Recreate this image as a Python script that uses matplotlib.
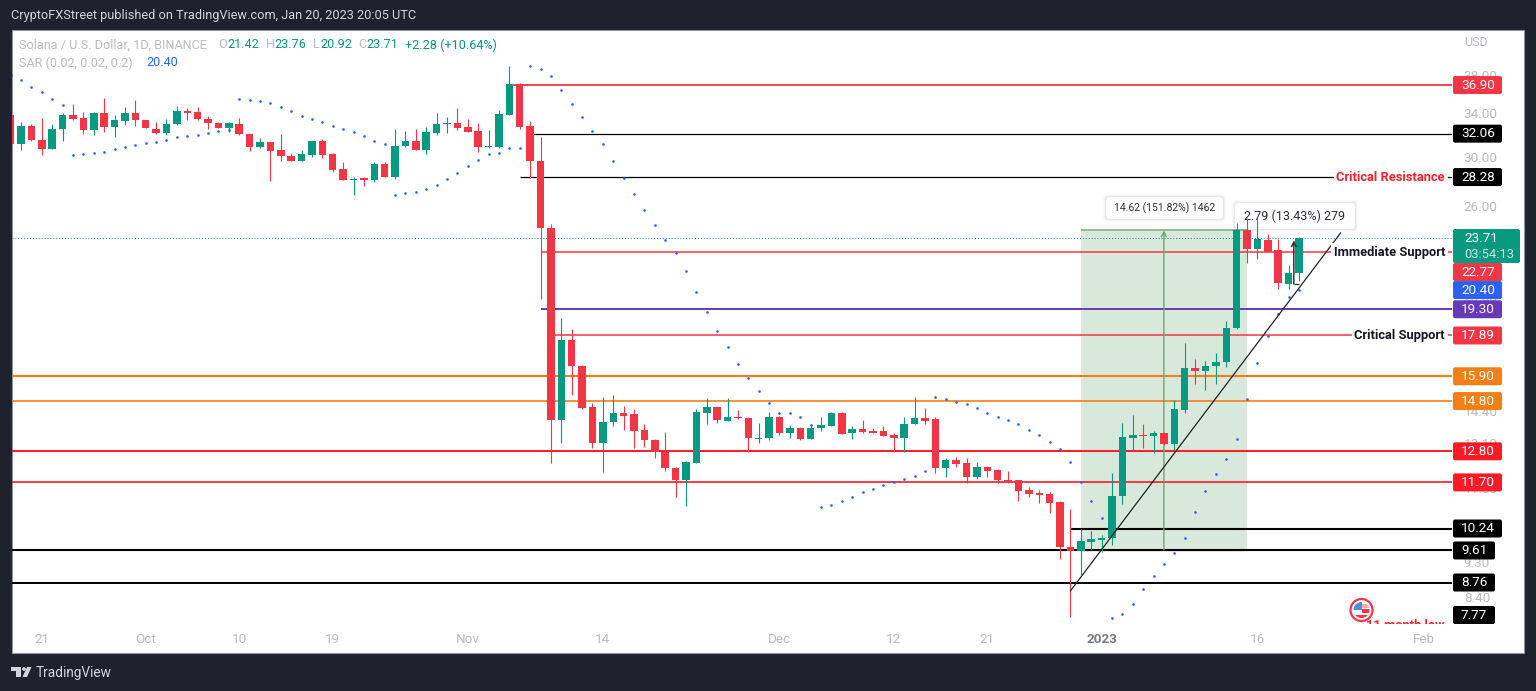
import matplotlib
matplotlib.use("Agg")
import matplotlib.pyplot as plt
import matplotlib.dates as mdates
from matplotlib.patches import Rectangle, FancyBboxPatch, Circle, Polygon
from matplotlib.transforms import IdentityTransform, blended_transform_factory
import numpy as np
import pandas as pd

plt.rcParams['font.family'] = ['Roboto', 'DejaVu Sans']

# Daily SOL/USD candles, Sep 18 2022 - Jan 20 2023
opens = [33.84, 31.12, 32.78, 31.49, 30.67, 32.50, 33.84, 33.55, 32.41, 34.03, 32.69, 33.25, 34.03,
         33.35, 32.50, 32.13, 32.97, 34.23, 34.13, 33.45, 33.06, 32.59, 32.97, 32.03, 30.85, 31.30, 30.58,
         30.05, 29.62, 30.14, 31.39, 30.23, 28.95, 28.04, 28.20, 28.04, 29.36, 28.29, 30.94, 31.39, 30.58, 32.13, 32.97, 33.06,
         32.69, 32.31, 30.85, 30.85, 33.84, 37.01, 32.78, 29.62, 24.41, 14.01, 17.66, 16.38, 14.55, 13.12, 13.93, 14.30, 14.26,
         13.62, 13.23, 12.78, 12.20, 11.79, 12.38, 14.30, 14.55, 13.97, 14.14, 14.10, 13.27, 13.31,
         14.14, 13.50, 13.69, 13.27, 13.69, 13.77, 14.30, 13.50, 13.65, 13.58, 13.58, 13.42, 13.31, 13.85, 14.10, 14.06, 12.20,
         12.49, 12.38, 11.89, 12.24, 12.13, 11.79, 11.79, 11.45, 11.35, 11.31, 11.05, 9.71, 9.60, 9.86,
         9.91, 9.96, 11.25, 13.31, 13.42, 13.38, 13.50, 13.08, 14.43, 16.29, 16.15, 16.38, 16.57, 18.29, 24.27, 22.97, 23.57,
         22.91, 20.76, 21.42]
highs = [33.84, 33.16, 32.97, 33.55, 32.97, 34.03, 34.93, 34.13, 34.13, 35.54, 33.84, 34.63, 35.34,
         33.35, 33.16, 33.45, 34.73, 34.53, 34.63, 33.74, 33.16, 33.16, 33.55, 32.03, 31.67, 31.30, 32.03,
         30.32, 30.58, 31.39, 31.58, 30.32, 29.53, 28.29, 28.29, 29.53, 29.53, 32.50, 32.31, 32.50, 32.69, 34.03, 33.64, 34.53,
         33.45, 33.06, 32.41, 34.33, 38.98, 37.12, 33.25, 31.76, 24.69, 18.82, 18.23, 16.43, 14.72, 14.98, 15.07, 14.60, 14.47,
         13.85, 13.27, 13.54, 12.24, 12.45, 14.47, 14.94, 14.55, 14.94, 14.43, 14.14, 13.89, 14.34,
         14.18, 13.81, 13.73, 13.85, 14.14, 14.34, 14.34, 13.77, 14.01, 13.69, 13.77, 13.50, 14.14, 14.98, 14.51, 14.14, 12.56,
         12.60, 12.56, 12.42, 12.27, 12.17, 12.10, 11.79, 11.55, 11.45, 11.38, 11.09, 10.84, 10.23, 10.17,
         10.05, 12.03, 13.89, 14.22, 13.85, 13.58, 13.54, 14.86, 17.51, 16.71, 16.62, 17.01, 18.65, 24.76, 25.11, 25.11, 23.99,
         23.64, 21.93, 23.76]
lows = [31.12, 30.58, 31.39, 30.14, 30.67, 31.39, 33.35, 32.03, 31.94, 32.22, 31.76, 32.87, 32.78,
        32.55, 32.03, 31.94, 32.87, 33.35, 33.35, 32.50, 32.59, 32.22, 31.94, 30.49, 30.76, 27.96, 29.62,
        29.62, 29.62, 29.97, 29.88, 28.70, 28.04, 26.85, 27.56, 27.88, 28.29, 28.12, 30.85, 30.58, 30.23, 31.94, 32.13, 32.41,
        32.22, 30.41, 30.76, 30.76, 33.84, 32.50, 28.20, 19.88, 12.38, 13.12, 15.07, 14.47, 12.93, 12.06, 13.77, 13.62, 12.93,
        12.97, 12.56, 12.10, 11.21, 10.93, 12.38, 13.85, 13.89, 13.97, 14.06, 12.78, 13.12, 13.23,
        13.42, 13.31, 13.23, 13.27, 13.58, 13.77, 13.46, 13.27, 13.50, 13.50, 13.38, 12.78, 12.78, 13.85, 13.85, 12.03, 11.89,
        12.24, 11.69, 11.82, 11.89, 11.69, 11.69, 11.08, 11.21, 11.02, 10.71, 9.38, 7.93, 8.96, 9.63,
        9.57, 9.77, 10.99, 12.82, 12.93, 12.74, 13.04, 12.85, 14.30, 15.55, 15.29, 15.55, 16.33, 18.23, 22.06, 22.32, 22.77,
        20.46, 20.46, 20.92]
closes = [31.12, 32.78, 31.49, 30.67, 32.50, 33.84, 33.45, 32.41, 34.03, 32.69, 33.35, 34.03, 33.35,
          32.55, 32.13, 32.97, 34.23, 34.03, 33.45, 33.06, 32.59, 33.06, 32.03, 30.85, 31.30, 30.49, 30.05,
          29.62, 30.23, 31.39, 30.14, 28.86, 28.04, 28.12, 28.04, 29.36, 28.29, 30.94, 31.39, 30.58, 32.22, 32.97, 33.06, 32.59,
          32.22, 30.85, 30.94, 33.94, 37.01, 32.69, 29.62, 24.41, 14.01, 17.66, 16.38, 14.51, 13.12, 13.93, 14.30, 14.18, 13.58,
          13.23, 12.78, 12.20, 11.79, 12.42, 14.34, 14.55, 14.01, 14.14, 14.10, 13.31, 13.31, 14.14,
          13.50, 13.69, 13.27, 13.69, 13.81, 14.30, 13.46, 13.65, 13.54, 13.50, 13.38, 13.31, 13.85, 14.10, 13.97, 12.20, 12.49,
          12.35, 11.89, 12.24, 12.10, 11.79, 11.75, 11.41, 11.31, 11.28, 11.02, 9.71, 9.60, 9.88, 9.94,
          9.96, 11.25, 13.34, 13.42, 13.38, 13.50, 13.08, 14.47, 16.29, 16.15, 16.38, 16.57, 18.29, 24.27, 22.97, 23.64, 22.77,
          20.82, 21.43, 23.71]

# Parabolic SAR, one value per candle
sar = [37.98, 37.44, 36.69, 36.16, 35.44, 34.83,
       30.14, 30.23, 30.32, 30.41, 30.67, 30.85, 31.03, 31.21, 31.30, 31.49, 31.76, 31.85, 31.94, 32.13, 32.31, 32.41,
       35.44, 35.34, 35.24, 35.03, 34.63, 34.23, 33.74, 33.45, 33.16, 32.78, 32.50, 32.22, 31.85, 31.39, 31.12,
       26.85, 27.01, 27.09, 27.33, 27.64, 28.12, 28.61, 29.20, 29.71, 30.23, 30.32, 30.76, 30.76,
       38.98, 38.65, 37.87, 36.37, 34.93, 33.64, 32.31, 31.12, 29.62, 28.20, 26.93, 25.72, 24.62, 23.58, 22.71, 21.56,
       20.29, 19.15, 18.14, 17.31, 16.48, 15.83, 15.24, 14.72, 14.30, 14.30, 14.14, 13.81,
       10.90, 10.96, 11.09, 11.21, 11.38, 11.48, 11.62, 11.72, 11.82, 11.92, 12.10,
       14.98, 14.90, 14.77, 14.68, 14.51, 14.30, 14.14, 14.01, 13.85, 13.62, 13.42, 13.15, 12.89, 12.42,
       11.72, 11.09, 10.56,
       7.91, 8.00, 8.23, 8.60, 8.93, 9.25, 9.55, 9.97, 10.74, 11.41, 12.00, 12.53, 13.27, 14.90, 16.52, 17.87, 19.04,
       20.00, 20.40]

# Horizontal levels
level_values = [36.90, 32.06, 28.28, 22.77, 19.30, 17.89, 15.90, 14.80, 12.80, 11.70, 10.24, 9.61, 8.76]
level_starts = ['2022-11-05', '2022-11-07', '2022-11-06', '2022-11-08', '2022-11-08', '2022-11-09', None, None,
                None, None, '2022-12-29', None, None]
level_colors = ['#f23645', '#000000', '#000000', '#f23645', '#673ab7', '#f23645', '#f57f17', '#f57f17',
                '#ff1a26', '#ff1a26', '#000000', '#000000', '#000000']
level_widths = [1.3, 0.9, 0.9, 1.1, 1.4, 1.1, 1.5, 1.2, 1.4, 1.2, 1.5, 1.5, 1.4]

price_ticks = [38, 34, 30, 26, 22, 20, 18, 16, 14.4, 13.1, 11.5, 9.3, 8.4]
price_tick_labels = ['38.00', '34.00', '30.00', '26.00', '22.00', '20.00', '18.00', '16.00', '14.40', '13.10',
                     '11.50', '9.30', '8.40']
date_ticks = ['2022-09-21', '2022-10-01', '2022-10-10', '2022-10-19', '2022-11-01', '2022-11-14', '2022-12-01',
              '2022-12-12', '2022-12-21', '2023-01-01', '2023-01-16', '2023-02-01']
date_labels = ['21', 'Oct', '10', '19', 'Nov', '14', 'Dec', '12', '21', '2023', '16', 'Feb']

GREEN = '#089981'
RED = '#f23645'
GRAY = '#b9bbc3'
DARK = '#1e222d'
W, H = 1536, 691

fig = plt.figure(figsize=(W / 100, H / 100), dpi=100, facecolor=DARK)
ident = IdentityTransform()


def yy(y):
    # pixel rows are counted from the top in the reference
    return H - y


# White panel behind everything
fig.add_artist(Rectangle((12, yy(653)), 1512, 623, transform=ident, fc='white', ec='#8f9299', lw=0.8, zorder=-1))

ax = fig.add_axes([12 / W, yy(624) / H, 1440 / W, 594 / H])
ax.patch.set_visible(False)
for s in ax.spines.values():
    s.set_visible(False)
ax.set_yscale('log')
ax.set_ylim(7.77, 43.26)

dates = mdates.date2num(pd.date_range('2022-09-18', periods=len(opens), freq='D'))
last = dates[-1]
per_day = 10.39  # pixels between two candles
ax.set_xlim(last - 1287 / per_day, last + 153 / per_day)
right = ax.get_xlim()[1]
left = ax.get_xlim()[0]

o = np.array(opens)
c = np.array(closes)
colors = [GREEN if b >= a else RED for a, b in zip(opens, closes)]

# Long position box
box_low = 9.62
box_high = 24.24
box_x0 = mdates.date2num(pd.Timestamp('2022-12-30'))
box_x1 = mdates.date2num(pd.Timestamp('2023-01-15'))
box_mid = mdates.date2num(pd.Timestamp('2023-01-07'))
ax.fill_between([box_x0, box_x1], box_low, box_high, color='#d8e8da', lw=0, zorder=1)
ax.hlines(box_high, box_x0, box_x1, color='#8fbf90', lw=1.4, zorder=1.2)
ax.hlines(box_low, box_x0, box_x1, color='#8fbf90', lw=1.0, zorder=1.2)

# Levels
for v, st, col, lw in zip(level_values, level_starts, level_colors, level_widths):
    x0 = left if st is None else mdates.date2num(pd.Timestamp(st))
    ax.hlines(v, x0, right, color=col, lw=lw, zorder=2)

ax.annotate('', xy=(box_mid, box_high), xytext=(box_mid, box_low), zorder=2.2,
            arrowprops=dict(arrowstyle='->', color='#6fa573', lw=1.0, shrinkA=0, shrinkB=0, mutation_scale=9))

# Last price line
ax.hlines(closes[-1], left, right, color=GREEN, lw=0.7, linestyles=(0, (1, 2)), zorder=2.3)


def note(x, y, w, h, s, size):
    # measure tool label with a soft shadow, the candles stay on top of it
    for grow, a in [(3, 0.02), (2, 0.03), (1, 0.04)]:
        ax.add_patch(FancyBboxPatch((x - grow, yy(y + h) - grow), w + 2 * grow, h + 2 * grow, transform=ident,
                                    boxstyle='round,pad=0,rounding_size=4', fc='black', ec='none', alpha=a, zorder=2.5))
    ax.add_patch(FancyBboxPatch((x, yy(y + h)), w, h, transform=ident, boxstyle='round,pad=0,rounding_size=4',
                                fc='white', ec='none', zorder=2.6))
    ax.text(x + w / 2, yy(y + h / 2), s, transform=ident, color='#2a2e39', fontsize=size, ha='center', va='center',
            zorder=2.7)


note(1106, 197, 117, 22, '14.62 (151.82%) 1462', 7.5)
note(1235, 203, 120, 26, '2.79 (13.43%) 279', 9.0)

# Candles
ax.vlines(dates, lows, highs, color=colors, lw=0.8, zorder=3)
ax.bar(dates, np.maximum(np.abs(c - o), 0.03), bottom=np.minimum(o, c), width=0.72, color=colors, lw=0, zorder=3.1)

# SAR dots
ax.plot(dates, sar, ls='none', marker='o', ms=1.9, mew=0, color='#2962ff', zorder=3.3)

# Trend line
trend_x = mdates.date2num([pd.Timestamp('2022-12-29'), pd.Timestamp('2023-01-24')])
ax.plot(trend_x, [8.55, 24.06], color='#222222', lw=0.9, zorder=3.5)

# Small measure arrow
m_x = mdates.date2num(pd.Timestamp('2023-01-19 12:00'))
ax.hlines(20.76, m_x, last, color='#333333', lw=0.9, zorder=3.6)
ax.annotate('', xy=(m_x, 23.55), xytext=(m_x, 20.76), zorder=3.6,
            arrowprops=dict(arrowstyle='->', color='#333333', lw=1.1, shrinkA=0, shrinkB=0, mutation_scale=8))

# Axes ticks
ax.yaxis.tick_right()
ax.set_yticks(price_ticks)
ax.set_yticklabels(price_tick_labels)
ax.minorticks_off()
ax.tick_params(axis='y', which='both', length=0, pad=8.5, labelsize=9.7, labelcolor=GRAY)
ax.set_xticks(mdates.date2num(pd.to_datetime(date_ticks)))
ax.set_xticklabels(date_labels)
ax.tick_params(axis='x', length=0, pad=6.5, labelsize=9.7, labelcolor=GRAY)
ax.get_xticklabels()[9].set_color('#787b86')
ax.get_xticklabels()[9].set_fontweight('bold')

# Top line and legend
fig.text(11 / W, yy(16) / H, 'CryptoFXStreet published on TradingView.com, Jan 20, 2023 20:05 UTC',
         color='#d1d4dc', fontsize=9.15, va='center')
legend_y = yy(45) / H
for x, s, col in [(19, 'Solana / U.S. Dollar, 1D, BINANCE', GRAY), (218, 'O', GRAY), (227, '21.42', GREEN),
                  (266, 'H', GRAY), (274, '23.76', GREEN), (313, 'L', GRAY), (320, '20.92', GREEN),
                  (358, 'C', GRAY), (366, '23.71', GREEN), (405, '+2.28 (+10.64%)', GREEN)]:
    fig.text(x / W, legend_y, s, color=col, fontsize=9.1, va='center')
fig.text(19 / W, yy(63) / H, 'SAR (0.02, 0.02, 0.2)', color=GRAY, fontsize=9.1, va='center')
fig.text(146 / W, yy(63) / H, '20.40', color='#2962ff', fontsize=9.1, va='center')
fig.text(1464 / W, yy(43) / H, 'USD', color=GRAY, fontsize=9, va='center')

# Text sitting on the lines, with a white gap around it
tr = blended_transform_factory(ident, ax.transData)
for v, s, col, x in [(28.28, 'Critical Resistance', '#f9202e', 1445), (22.77, 'Immediate Support', '#131722', 1445),
                     (17.89, 'Critical Support', '#131722', 1445)]:
    ax.text(x, v, s, transform=tr, color=col, fontsize=9.3, fontweight='bold', ha='right', va='center', zorder=4,
            clip_on=False, bbox=dict(fc='white', ec='none', pad=2.0))
ax.text(1445, yy(625.5), '11 month low', transform=ident, color='#f9202e', fontsize=9.3, fontweight='bold', ha='right',
        va='center', zorder=4, clip_on=True)


def tag(price, s, col, width=49, shift=0, h=18):
    # price label on the right scale, shift moves it when labels would overlap
    y = ax.transData.transform((0, price))[1] - shift
    fig.add_artist(FancyBboxPatch((1453, y - h / 2), width, h, transform=ident, boxstyle='round,pad=0,rounding_size=2',
                                  fc=col, ec='none', zorder=5))
    fig.text(1478 / W if width == 49 else (1453 + width / 2) / W, y / H, s, color='white', fontsize=9.7, ha='center',
             va='center', zorder=6)


tag(36.90, '36.90', RED)
tag(32.06, '32.06', '#000000')
tag(28.28, '28.28', '#000000')
tag(22.77, '22.77', RED, shift=20)
tag(20.40, '20.40', '#2962ff')
tag(19.30, '19.30', '#673ab7')
tag(17.89, '17.89', RED)
tag(15.90, '15.90', '#f57f17')
tag(14.80, '14.80', '#f57f17')
tag(12.80, '12.80', '#ff1a26')
tag(11.70, '11.70', '#ff1a26')
tag(10.24, '10.24', '#000000')
tag(9.61, '9.61', '#000000', width=42)
tag(8.76, '8.76', '#000000', width=42)
tag(7.77, '7.77', '#000000', width=42, shift=-9)

# Last price box with countdown
y_last = ax.transData.transform((0, closes[-1]))[1]
fig.add_artist(FancyBboxPatch((1453, y_last - 25), 67, 34, transform=ident, boxstyle='round,pad=0,rounding_size=2',
                              fc=GREEN, ec='none', zorder=5))
fig.text(1464 / W, (y_last) / H, '23.71', color='white', fontsize=9.7, va='center', zorder=6)
fig.text(1464 / W, (y_last - 16) / H, '03:54:13', color='#c8e6e0', fontsize=9.4, va='center', zorder=6)

# Economic event flag
fig.add_artist(Circle((1361.5, yy(610)), 11, transform=ident, fc='white', ec=RED, lw=1.6, zorder=4))
inner = Circle((1361.5, yy(610)), 8, transform=ident, fc='white', ec='none', zorder=4.1)
fig.add_artist(inner)
for x, y, w, h, col in [(1353, 604, 18, 3.5, '#f7a8ad'), (1362, 608.5, 10, 4, RED), (1353, 615, 18, 3.5, RED),
                        (1353, 602, 9, 8, '#4a90e2')]:
    r = Rectangle((x, yy(y + h)), w, h, transform=ident, fc=col, ec='none', zorder=4.2)
    fig.add_artist(r)
    r.set_clip_path(inner)

# TradingView logo and name
logo = '#d1d4dc'
fig.add_artist(Polygon([(11, yy(667)), (21, yy(667)), (21, yy(677)), (15.5, yy(677)), (15.5, yy(671)), (11, yy(671))],
                       transform=ident, fc=logo, ec='none'))
fig.add_artist(Circle((24, yy(669)), 1.9, transform=ident, fc=logo, ec='none'))
fig.add_artist(Polygon([(27, yy(667)), (31.5, yy(667)), (27, yy(677)), (22.5, yy(677))], transform=ident, fc=logo,
                       ec='none'))
fig.text(36 / W, yy(673) / H, 'TradingView', color=logo, fontsize=9.8, va='center')

fig.savefig('out.png', facecolor=DARK)
